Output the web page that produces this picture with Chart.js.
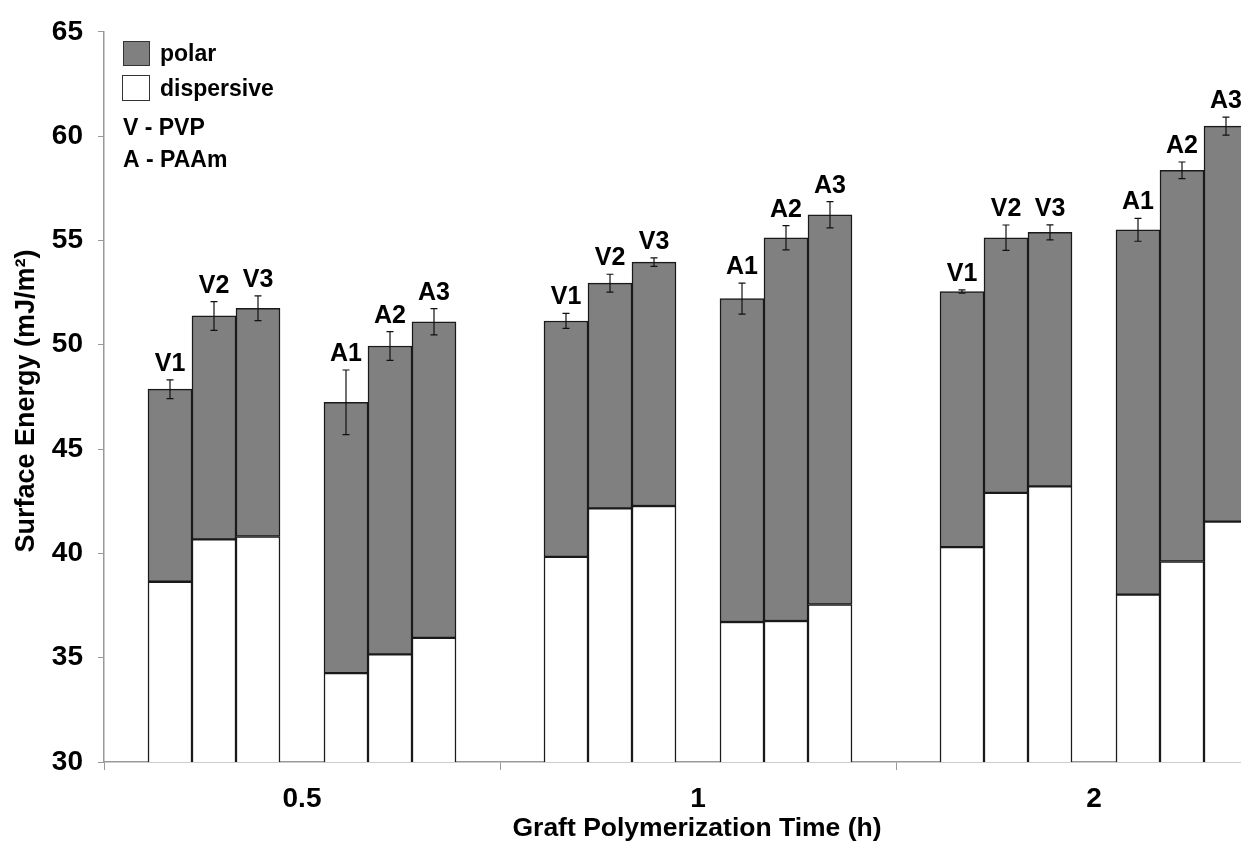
<!DOCTYPE html>
<html>
<head>
<meta charset="utf-8">
<script src="https://cdn.jsdelivr.net/npm/chart.js@4"></script>
<style>
  html, body { margin: 0; padding: 0; background: #fff; overflow: hidden; }
  #wrap { width: 1241px; height: 843px; overflow: hidden; }
</style>
</head>
<body>
<div id="wrap"><canvas id="myChart" width="1300" height="843"></canvas></div>
<script>
const GROUPS = ['0.5', '1', '2'];
const BAR_NAMES = ['V1', 'V2', 'V3', 'A1', 'A2', 'A3'];

// dispersive part (white), polar part (grey, stacked on top), error bar on the total
const DISPERSIVE_05 = [38.64, 40.67, 40.81, 34.26, 35.16, 35.95];
const POLAR_05      = [9.23, 10.71, 10.94, 12.98, 14.78, 15.15];
const ERROR_05      = [0.45, 0.69, 0.59, 1.55, 0.69, 0.63];

const DISPERSIVE_1  = [39.83, 42.16, 42.27, 36.71, 36.76, 37.55];
const POLAR_1       = [11.31, 10.79, 11.69, 15.50, 18.37, 18.68];
const ERROR_1       = [0.36, 0.43, 0.20, 0.74, 0.58, 0.63];

const DISPERSIVE_2  = [40.30, 42.90, 43.21, 38.02, 39.61, 41.52];
const POLAR_2       = [12.25, 12.23, 12.18, 17.49, 18.75, 18.96];
const ERROR_2       = [0.08, 0.61, 0.36, 0.55, 0.40, 0.43];

const Y_MIN = 30, Y_MAX = 65, Y_STEP = 5;

// each time group = 9 category slots: gap, V1 V2 V3, gap, A1 A2 A3, gap
const SLOTS = [1, 2, 3, 5, 6, 7];
const SLOTS_PER_GROUP = 9;

function toSlots(groupArrays, fill) {
    let out = [];
    groupArrays.forEach(vals => {
        let g = new Array(SLOTS_PER_GROUP).fill(fill);
        SLOTS.forEach((s, k) => { g[s] = vals[k]; });
        out = out.concat(g);
    });
    return out;
}

const labels = [];
GROUPS.forEach(g => {
    for (let i = 0; i < SLOTS_PER_GROUP; i++) labels.push(i === 4 ? g : '');
});
const dispersiveData = toSlots([DISPERSIVE_05, DISPERSIVE_1, DISPERSIVE_2], null);
const polarData = toSlots([POLAR_05, POLAR_1, POLAR_2], null);
const errorData = toSlots([ERROR_05, ERROR_1, ERROR_2], null);
const nameData = toSlots([BAR_NAMES, BAR_NAMES, BAR_NAMES], null);

const FONT = '"Liberation Sans", Arial, sans-serif';

function drawText(ctx, str, x, y, size, align) {
    ctx.save();
    ctx.font = `bold ${size}px ${FONT}`;
    ctx.fillStyle = '#000';
    ctx.textAlign = align || 'left';
    ctx.textBaseline = 'alphabetic';
    ctx.fillText(str, x, y);
    ctx.restore();
}

const extras = {
    id: 'extras',
    afterDatasetsDraw(chart) {
        const ctx = chart.ctx;
        const meta = chart.getDatasetMeta(1);
        const y = chart.scales.y;
        meta.data.forEach((bar, i) => {
            if (polarData[i] === null) return;
            const total = dispersiveData[i] + polarData[i];
            const top = y.getPixelForValue(total + errorData[i]);
            const bottom = y.getPixelForValue(total - errorData[i]);
            ctx.save();
            ctx.strokeStyle = '#111';
            ctx.lineWidth = 1.2;
            ctx.beginPath();
            ctx.moveTo(bar.x, top); ctx.lineTo(bar.x, bottom);
            ctx.moveTo(bar.x - 3.5, top); ctx.lineTo(bar.x + 3.5, top);
            ctx.moveTo(bar.x - 3.5, bottom); ctx.lineTo(bar.x + 3.5, bottom);
            ctx.stroke();
            ctx.restore();
            drawText(ctx, nameData[i], bar.x, top - 9, 25, 'center');
        });
    },
    afterDraw(chart) {
        const ctx = chart.ctx;
        // legend
        ctx.save();
        ctx.lineWidth = 1;
        ctx.strokeStyle = '#333';
        ctx.fillStyle = '#808080';
        ctx.fillRect(123, 41, 26, 24);
        ctx.strokeRect(123.5, 41.5, 26, 24);
        ctx.fillStyle = '#fff';
        ctx.fillRect(122, 75, 27, 25);
        ctx.strokeRect(122.5, 75.5, 27, 25);
        ctx.restore();
        drawText(ctx, 'polar', 160, 61, 23);
        drawText(ctx, 'dispersive', 160, 96, 23);
        drawText(ctx, 'V - PVP', 123, 135, 23);
        drawText(ctx, 'A - PAAm', 123, 167, 23);

        // axis titles
        drawText(ctx, 'Graft Polymerization Time (h)', 697, 836, 26.5, 'center');
        ctx.save();
        ctx.translate(34, 401);
        ctx.rotate(-Math.PI / 2);
        drawText(ctx, 'Surface Energy (mJ/m²)', 0, 0, 27, 'center');
        ctx.restore();
    }
};

const ctx = document.getElementById('myChart');
new Chart(ctx, {
    type: 'bar',
    data: {
        labels: labels,
        datasets: [{
            label: 'dispersive',
            data: dispersiveData,
            backgroundColor: '#ffffff',
            borderColor: '#1a1a1a',
            borderWidth: 1.5,
            borderSkipped: false,
            barPercentage: 1,
            categoryPercentage: 1
        }, {
            label: 'polar',
            data: polarData,
            backgroundColor: '#808080',
            borderColor: '#1a1a1a',
            borderWidth: 1.5,
            borderSkipped: false,
            barPercentage: 1,
            categoryPercentage: 1
        }]
    },
    options: {
        responsive: false,
        animation: false,
        layout: { padding: { left: 0, right: 8, top: 25, bottom: 0 } },
        plugins: {
            legend: { display: false },
            tooltip: { enabled: false }
        },
        scales: {
            x: {
                stacked: true,
                grid: {
                    offset: true,
                    drawOnChartArea: false,
                    tickLength: 8,
                    color: c => (c.index % SLOTS_PER_GROUP === 0 ? '#999' : 'rgba(0,0,0,0)')
                },
                border: { color: '#999', width: 1.5 },
                ticks: {
                    autoSkip: false,
                    maxRotation: 0,
                    padding: 12,
                    color: '#000',
                    font: { family: FONT, size: 28, weight: 'bold' }
                },
                afterFit: scale => { scale.height = 81; }
            },
            y: {
                stacked: true,
                min: Y_MIN,
                max: Y_MAX,
                grid: { drawOnChartArea: false, tickLength: 6, color: '#999' },
                border: { color: '#999', width: 1.5 },
                ticks: {
                    stepSize: Y_STEP,
                    padding: 15,
                    color: '#000',
                    font: { family: FONT, size: 28, weight: 'bold' }
                },
                afterFit: scale => { scale.width = 104; }
            }
        }
    },
    plugins: [extras]
});
</script>
</body>
</html>
